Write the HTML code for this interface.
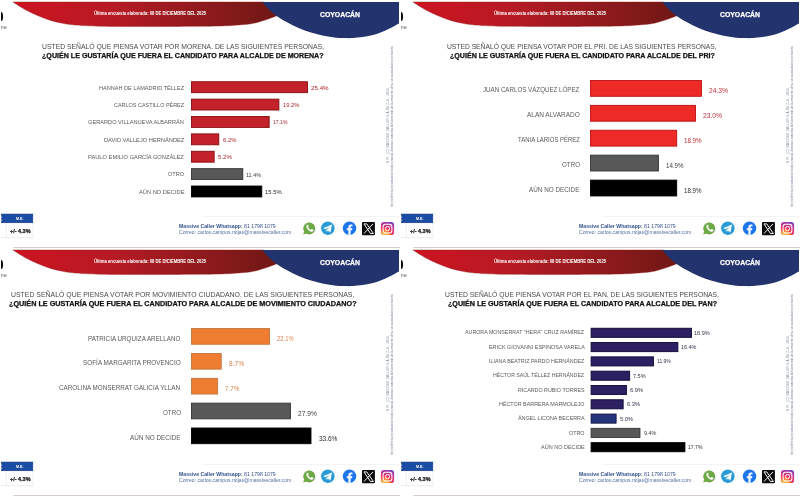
<!DOCTYPE html>
<html lang="es">
<head>
<meta charset="utf-8">
<title>Encuesta Coyoacán</title>
<style>
html,body{margin:0;padding:0;background:#fff;}
body{width:800px;height:497px;position:relative;overflow:hidden;font-family:"Liberation Sans", Arial, sans-serif;}
.p{position:absolute;width:400px;height:249px;overflow:hidden;background:#fff;}
.p svg.h{position:absolute;left:0;top:0;}
.t{position:absolute;white-space:nowrap;line-height:10px;height:10px;transform-origin:0 50%;}
.b{position:absolute;box-sizing:border-box;border:0.8px solid;}
.ic{position:absolute;}
.v{position:absolute;white-space:nowrap;transform-origin:0 0;transform:rotate(-90deg);font-size:3.1px;line-height:4px;color:#7d87a0;}
</style>
</head>
<body>
<div class="p" style="left:0px;top:0px;">
<svg class="h" width="400" height="42" viewBox="0 0 400 42"><defs><linearGradient id="g0" x1="13" y1="0" x2="285" y2="0" gradientUnits="userSpaceOnUse"><stop offset="0" stop-color="#cc1420"/><stop offset="0.35" stop-color="#b81a25"/><stop offset="0.7" stop-color="#8f1a1d"/><stop offset="1" stop-color="#6c1813"/></linearGradient></defs><path d="M13.00,2.00 C15.00,3.25 20.92,7.25 25.00,9.50 C29.08,11.75 33.33,13.70 37.50,15.50 C41.67,17.30 45.83,19.00 50.00,20.30 C54.17,21.60 58.33,22.52 62.50,23.30 C66.67,24.08 68.75,24.52 75.00,25.00 C81.25,25.48 87.50,25.95 100.00,26.20 C112.50,26.45 133.33,26.48 150.00,26.50 C166.67,26.52 187.50,26.42 200.00,26.30 C212.50,26.18 216.67,26.20 225.00,25.80 C233.33,25.40 243.83,24.70 250.00,23.90 C256.17,23.10 257.83,22.23 262.00,21.00 C266.17,19.77 270.33,18.33 275.00,16.50 C279.67,14.67 287.50,11.08 290.00,10.00 L290,5 L268,4.5 L264,2 Z" fill="url(#g0)" stroke="#8e1218" stroke-opacity="0.55" stroke-width="0.7"/><path d="M262.20,2.00 C263.29,3.23 266.10,6.92 268.75,9.40 C271.40,11.88 274.98,14.72 278.10,16.90 C281.23,19.08 284.37,20.78 287.50,22.50 C290.63,24.22 293.77,25.78 296.90,27.20 C300.02,28.62 303.13,29.91 306.25,31.00 C309.37,32.09 312.48,32.92 315.60,33.75 C318.73,34.58 321.87,35.38 325.00,36.00 C328.13,36.62 331.27,37.15 334.40,37.50 C337.52,37.85 340.63,38.00 343.75,38.10 C346.87,38.20 349.98,38.27 353.10,38.10 C356.23,37.93 359.37,37.58 362.50,37.10 C365.63,36.62 368.77,36.06 371.90,35.25 C375.02,34.44 378.13,33.44 381.25,32.25 C384.37,31.06 387.64,29.61 390.60,28.10 C393.56,26.59 397.60,24.02 399.00,23.20 L399,2 Z" fill="#22336d"/></svg>
<div style="position:absolute;left:0.7px;top:12.4px;width:1.9px;height:9.1px;background:#0a0a0a;border-radius:0 2px 2px 0/0 5px 5px 0;"></div>
<span class="t" id="t0" style="left:0.80px;top:22.20px;font-size:5.80px;font-weight:400;color:#5a5a5a;transform:scaleX(1.1442);">re</span>
<span class="t" id="t1" style="left:94.20px;top:7.60px;font-size:5.00px;font-weight:700;color:#fff;transform:scaleX(0.8392);">Última encuesta elaborada: 08 DE DICIEMBRE DEL 2025</span>
<span class="t" id="t2" style="left:320.00px;top:9.60px;font-size:6.60px;font-weight:700;color:#fff;transform:scaleX(1.0398);-webkit-text-stroke:0.25px #fff;">COYOACÁN</span>
<span class="t" id="t3" style="left:42.00px;top:41.60px;font-size:6.90px;font-weight:400;color:#4a4a4a;transform:scaleX(0.9890);">USTED SEÑALÓ QUE PIENSA VOTAR POR MORENA. DE LAS SIGUIENTES PERSONAS,</span>
<span class="t" id="t4" style="left:42.00px;top:51.40px;font-size:6.90px;font-weight:700;color:#111;transform:scaleX(1.0322);-webkit-text-stroke:0.25px #111;">¿QUIÉN LE GUSTARÍA QUE FUERA EL CANDIDATO PARA ALCALDE DE MORENA?</span>
<svg class="h" width="400" height="249" viewBox="0 0 400 249"><rect x="191.45" y="81.75" width="116.10" height="10.90" fill="#c4222a" stroke="#870b11" stroke-width="0.9"/><rect x="191.45" y="99.13" width="87.43" height="10.90" fill="#c4222a" stroke="#870b11" stroke-width="0.9"/><rect x="191.45" y="116.51" width="77.72" height="10.90" fill="#c4222a" stroke="#870b11" stroke-width="0.9"/><rect x="191.45" y="133.89" width="27.32" height="10.90" fill="#c4222a" stroke="#870b11" stroke-width="0.9"/><rect x="191.45" y="151.27" width="22.69" height="10.90" fill="#c4222a" stroke="#870b11" stroke-width="0.9"/><rect x="191.45" y="168.65" width="51.36" height="10.90" fill="#585858" stroke="#333333" stroke-width="0.9"/><rect x="191.45" y="186.03" width="70.32" height="10.90" fill="#000000" stroke="#000000" stroke-width="0.9"/></svg>
<span class="t" id="t5" style="left:99.00px;top:82.50px;font-size:6.20px;font-weight:400;color:#5a5a5a;transform:scaleX(0.9010);">HANNAH DE LAMADRID TÉLLEZ</span>
<span class="t" id="t6" style="left:311.40px;top:82.70px;font-size:6.20px;font-weight:400;color:#a9272d;transform:scaleX(1.0030);">25.4%</span>
<span class="t" id="t7" style="left:114.00px;top:99.88px;font-size:6.20px;font-weight:400;color:#5a5a5a;transform:scaleX(0.8825);">CARLOS CASTILLO PÉREZ</span>
<span class="t" id="t8" style="left:282.60px;top:100.08px;font-size:6.20px;font-weight:400;color:#a9272d;transform:scaleX(0.9346);">19.2%</span>
<span class="t" id="t9" style="left:88.25px;top:117.26px;font-size:6.20px;font-weight:400;color:#5a5a5a;transform:scaleX(0.9119);">GERARDO VILLANUEVA ALBARRÁN</span>
<span class="t" id="t10" style="left:272.60px;top:117.46px;font-size:6.20px;font-weight:400;color:#a9272d;transform:scaleX(0.8207);">17.1%</span>
<span class="t" id="t11" style="left:103.80px;top:134.64px;font-size:6.20px;font-weight:400;color:#5a5a5a;transform:scaleX(0.9218);">DAVID VALLEJO HERNÁNDEZ</span>
<span class="t" id="t12" style="left:223.00px;top:134.84px;font-size:6.20px;font-weight:400;color:#a9272d;transform:scaleX(0.9497);">6.2%</span>
<span class="t" id="t13" style="left:88.30px;top:152.02px;font-size:6.20px;font-weight:400;color:#5a5a5a;transform:scaleX(0.9266);">PAULO EMILIO GARCÍA GONZÁLEZ</span>
<span class="t" id="t14" style="left:218.00px;top:152.22px;font-size:6.20px;font-weight:400;color:#a9272d;transform:scaleX(0.9922);">5.2%</span>
<span class="t" id="t15" style="left:168.00px;top:169.40px;font-size:6.20px;font-weight:400;color:#5a5a5a;transform:scaleX(0.9007);">OTRO</span>
<span class="t" id="t16" style="left:246.40px;top:169.60px;font-size:6.20px;font-weight:400;color:#3c3c3c;transform:scaleX(0.8775);">11.4%</span>
<span class="t" id="t17" style="left:138.60px;top:186.78px;font-size:6.20px;font-weight:400;color:#5a5a5a;transform:scaleX(0.9253);">AÚN NO DECIDE</span>
<span class="t" id="t18" style="left:265.40px;top:186.98px;font-size:6.20px;font-weight:400;color:#2c2c2c;transform:scaleX(0.9460);">15.5%</span>
<svg class="h" style="top:205px;" width="40" height="40" viewBox="0 205 40 40"><rect x="1.5" y="214.05" width="31.3" height="8.7" fill="#1b4ba3" stroke="#123a8a" stroke-width="0.6"/><path d="M1.2,216.3 l1.1,0.9 l-1.1,0.9 z M1.2,219.2 l1.1,0.9 l-1.1,0.9 z" fill="#fff" opacity="0.85"/><path d="M6.3,223.1 V237.6 M32.8,223.1 V237.6" stroke="#e6e6e6" stroke-width="0.6" fill="none"/><path d="M1,237.6 H33.2" stroke="#dcdcdc" stroke-width="0.6" fill="none"/></svg>
<span class="t" id="t19" style="left:16.20px;top:213.60px;font-size:3.50px;font-weight:700;color:#fff;transform:scaleX(1.0551);">M.E.</span>
<span class="t" id="t20" style="left:9.50px;top:225.70px;font-size:5.30px;font-weight:700;color:#1a1a1a;transform:scaleX(1.0314);-webkit-text-stroke:0.25px #1a1a1a;">+/- 4.3%</span>
<div style="position:absolute;left:203px;top:216px;width:197px;height:0.7px;background:#f4f4f4;"></div>
<span class="t" id="t21" style="left:179.30px;top:221.30px;font-size:5.00px;font-weight:400;color:#34518c;transform:scaleX(1.0323);"><b>Massive Caller Whatsapp:</b> 81 1798 1079</span>
<span class="t" id="t22" style="left:179.30px;top:227.25px;font-size:5.00px;font-weight:400;color:#55709f;transform:scaleX(1.0250);">Correo: carlos.campos.riojas@massivecaller.com</span>
<svg class="ic" style="left:300px;top:219px;" width="100" height="20" viewBox="300 219 100 20">
<defs>
<radialGradient id="igG" cx="0.28" cy="1.05" r="1.25"><stop offset="0" stop-color="#fed576"/><stop offset="0.22" stop-color="#f9a23a"/><stop offset="0.45" stop-color="#ee3a52"/><stop offset="0.7" stop-color="#c42f93"/><stop offset="1" stop-color="#5a4ad1"/></radialGradient>
<filter id="sh" x="-20%" y="-20%" width="140%" height="140%"><feGaussianBlur stdDeviation="0.45"/></filter>
</defs>
<g>
<circle cx="309.3" cy="228.5" r="6.1" fill="#4d6b33" opacity="0.45" filter="url(#sh)"/>
<path d="M303.1,234.6 L304.2,231.2 A5.8,5.8 0 1 1 306.6,233.5 Z" fill="#6dab47"/>
<path d="M306.9,225.0 c0.5,-0.5 1.0,-0.4 1.2,0.1 l0.5,1.1 c0.1,0.3 0,0.6 -0.3,0.9 c-0.2,0.2 -0.2,0.4 0,0.7 c0.6,0.9 1.3,1.5 2.2,1.9 c0.3,0.1 0.5,0.1 0.7,-0.2 c0.3,-0.4 0.6,-0.5 1.0,-0.3 l1.0,0.5 c0.4,0.2 0.4,0.6 0.2,1.1 c-0.4,0.9 -1.4,1.2 -2.4,0.9 c-2.3,-0.7 -4.0,-2.4 -4.6,-4.6 c-0.2,-0.8 -0.1,-1.5 0.5,-2.1 z" fill="#fff"/>
</g>
<g>
<circle cx="327.85" cy="228.3" r="6.75" fill="#2a9dd6"/>
<path d="M323.2,228.3 L332.0,224.6 L330.4,232.6 L327.8,230.6 L326.5,232.0 L326.4,229.9 L330.2,226.5 L325.6,229.3 Z" fill="#fff"/>
</g>
<g>
<circle cx="349.5" cy="228.15" r="6.7" fill="#1b74e8"/>
<path d="M350.55,234.85 v-4.6 h1.5 l0.3,-1.9 h-1.8 v-1.1 c0,-0.6 0.25,-1.05 1.05,-1.05 h0.85 v-1.65 c-0.4,-0.07 -0.95,-0.12 -1.5,-0.12 c-1.6,0 -2.55,0.95 -2.55,2.65 v1.27 h-1.6 v1.9 h1.6 v4.6 z" fill="#fff"/>
</g>
<g>
<rect x="362" y="222.1" width="12.9" height="13.1" rx="0.8" fill="#0b0b0b"/>
<path d="M363.9,223.9 h2.9 l6.6,9.6 h-2.9 z" fill="none" stroke="#fff" stroke-width="0.95" stroke-linejoin="round"/>
<path d="M373.0,223.9 L364.0,233.5" fill="none" stroke="#fff" stroke-width="0.95"/>
</g>
<g>
<rect x="380.9" y="222.1" width="13.2" height="13.0" rx="3.2" fill="url(#igG)"/>
<rect x="383.1" y="224.3" width="8.8" height="8.6" rx="2.4" fill="none" stroke="#fff" stroke-width="1.05"/>
<circle cx="387.5" cy="228.6" r="2.05" fill="none" stroke="#fff" stroke-width="1.0"/>
<circle cx="390.0" cy="226.1" r="0.55" fill="#fff"/>
</g>
</svg>

<div class="v" id="v0a" style="left:385.5px;top:163.3px;letter-spacing:0.220px;">D.R., (C) MASSIVE CALLER S.A DE C.V., 2025</div>
<div class="v" id="v0b" style="left:390px;top:206.5px;letter-spacing:-0.059px;">Se prohíbe la reproducción total o parcial, directa o indirecta del contenido de la presente obra, sin autorización por escrito.</div>
<div style="position:absolute;left:12.5px;top:247px;width:388px;height:0.8px;background:#d9cccc;"></div>
</div>
<div class="p" style="left:400px;top:0px;">
<svg class="h" width="400" height="42" viewBox="0 0 400 42"><defs><linearGradient id="g1" x1="13" y1="0" x2="285" y2="0" gradientUnits="userSpaceOnUse"><stop offset="0" stop-color="#cc1420"/><stop offset="0.35" stop-color="#b81a25"/><stop offset="0.7" stop-color="#8f1a1d"/><stop offset="1" stop-color="#6c1813"/></linearGradient></defs><path d="M13.00,2.00 C15.00,3.25 20.92,7.25 25.00,9.50 C29.08,11.75 33.33,13.70 37.50,15.50 C41.67,17.30 45.83,19.00 50.00,20.30 C54.17,21.60 58.33,22.52 62.50,23.30 C66.67,24.08 68.75,24.52 75.00,25.00 C81.25,25.48 87.50,25.95 100.00,26.20 C112.50,26.45 133.33,26.48 150.00,26.50 C166.67,26.52 187.50,26.42 200.00,26.30 C212.50,26.18 216.67,26.20 225.00,25.80 C233.33,25.40 243.83,24.70 250.00,23.90 C256.17,23.10 257.83,22.23 262.00,21.00 C266.17,19.77 270.33,18.33 275.00,16.50 C279.67,14.67 287.50,11.08 290.00,10.00 L290,5 L268,4.5 L264,2 Z" fill="url(#g1)" stroke="#8e1218" stroke-opacity="0.55" stroke-width="0.7"/><path d="M262.20,2.00 C263.29,3.23 266.10,6.92 268.75,9.40 C271.40,11.88 274.98,14.72 278.10,16.90 C281.23,19.08 284.37,20.78 287.50,22.50 C290.63,24.22 293.77,25.78 296.90,27.20 C300.02,28.62 303.13,29.91 306.25,31.00 C309.37,32.09 312.48,32.92 315.60,33.75 C318.73,34.58 321.87,35.38 325.00,36.00 C328.13,36.62 331.27,37.15 334.40,37.50 C337.52,37.85 340.63,38.00 343.75,38.10 C346.87,38.20 349.98,38.27 353.10,38.10 C356.23,37.93 359.37,37.58 362.50,37.10 C365.63,36.62 368.77,36.06 371.90,35.25 C375.02,34.44 378.13,33.44 381.25,32.25 C384.37,31.06 387.64,29.61 390.60,28.10 C393.56,26.59 397.60,24.02 399.00,23.20 L399,2 Z" fill="#22336d"/></svg>
<div style="position:absolute;left:0.7px;top:12.4px;width:1.9px;height:9.1px;background:#0a0a0a;border-radius:0 2px 2px 0/0 5px 5px 0;"></div>
<span class="t" id="t23" style="left:0.80px;top:22.20px;font-size:5.80px;font-weight:400;color:#5a5a5a;transform:scaleX(1.1442);">re</span>
<span class="t" id="t24" style="left:94.20px;top:7.60px;font-size:5.00px;font-weight:700;color:#fff;transform:scaleX(0.8392);">Última encuesta elaborada: 08 DE DICIEMBRE DEL 2025</span>
<span class="t" id="t25" style="left:320.00px;top:9.60px;font-size:6.60px;font-weight:700;color:#fff;transform:scaleX(1.0398);-webkit-text-stroke:0.25px #fff;">COYOACÁN</span>
<span class="t" id="t26" style="left:47.40px;top:41.60px;font-size:6.90px;font-weight:400;color:#4a4a4a;transform:scaleX(0.9752);">USTED SEÑALÓ QUE PIENSA VOTAR POR EL PRI. DE LAS SIGUIENTES PERSONAS,</span>
<span class="t" id="t27" style="left:49.60px;top:51.40px;font-size:6.90px;font-weight:700;color:#111;transform:scaleX(1.0273);-webkit-text-stroke:0.25px #111;">¿QUIÉN LE GUSTARÍA QUE FUERA EL CANDIDATO PARA ALCALDE DEL PRI?</span>
<svg class="h" width="400" height="249" viewBox="0 0 400 249"><rect x="190.50" y="80.45" width="110.90" height="15.85" fill="#ee2a26" stroke="#b81212" stroke-width="0.9"/><rect x="190.50" y="105.35" width="104.95" height="15.85" fill="#ee2a26" stroke="#b81212" stroke-width="0.9"/><rect x="190.50" y="130.25" width="86.20" height="15.85" fill="#ee2a26" stroke="#b81212" stroke-width="0.9"/><rect x="190.50" y="155.15" width="67.90" height="15.85" fill="#585858" stroke="#333333" stroke-width="0.9"/><rect x="190.50" y="180.10" width="86.20" height="15.85" fill="#000000" stroke="#000000" stroke-width="0.9"/></svg>
<span class="t" id="t28" style="left:83.30px;top:85.47px;font-size:6.90px;font-weight:400;color:#5a5a5a;transform:scaleX(0.8991);">JUAN CARLOS VÁZQUEZ LÓPEZ</span>
<span class="t" id="t29" style="left:309.40px;top:86.08px;font-size:6.80px;font-weight:400;color:#b93038;transform:scaleX(0.9854);">24.3%</span>
<span class="t" id="t30" style="left:127.00px;top:110.38px;font-size:6.90px;font-weight:400;color:#5a5a5a;transform:scaleX(0.9403);">ALAN ALVARADO</span>
<span class="t" id="t31" style="left:303.40px;top:110.98px;font-size:6.80px;font-weight:400;color:#b93038;transform:scaleX(0.9854);">23.0%</span>
<span class="t" id="t32" style="left:117.70px;top:135.28px;font-size:6.90px;font-weight:400;color:#5a5a5a;transform:scaleX(0.8673);">TANIA LARIOS PÉREZ</span>
<span class="t" id="t33" style="left:284.40px;top:135.88px;font-size:6.80px;font-weight:400;color:#b93038;transform:scaleX(0.9128);">18.9%</span>
<span class="t" id="t34" style="left:161.70px;top:160.17px;font-size:6.90px;font-weight:400;color:#5a5a5a;transform:scaleX(0.9042);">OTRO</span>
<span class="t" id="t35" style="left:266.00px;top:160.77px;font-size:6.80px;font-weight:400;color:#3c3c3c;transform:scaleX(0.9128);">14.9%</span>
<span class="t" id="t36" style="left:129.30px;top:185.12px;font-size:6.90px;font-weight:400;color:#5a5a5a;transform:scaleX(0.9205);">AÚN NO DECIDE</span>
<span class="t" id="t37" style="left:284.40px;top:185.72px;font-size:6.80px;font-weight:400;color:#2c2c2c;transform:scaleX(0.9128);">18.9%</span>
<svg class="h" style="top:205px;" width="40" height="40" viewBox="0 205 40 40"><rect x="1.5" y="214.05" width="31.3" height="8.7" fill="#1b4ba3" stroke="#123a8a" stroke-width="0.6"/><path d="M1.2,216.3 l1.1,0.9 l-1.1,0.9 z M1.2,219.2 l1.1,0.9 l-1.1,0.9 z" fill="#fff" opacity="0.85"/><path d="M6.3,223.1 V237.6 M32.8,223.1 V237.6" stroke="#e6e6e6" stroke-width="0.6" fill="none"/><path d="M1,237.6 H33.2" stroke="#dcdcdc" stroke-width="0.6" fill="none"/></svg>
<span class="t" id="t38" style="left:16.20px;top:213.60px;font-size:3.50px;font-weight:700;color:#fff;transform:scaleX(1.0551);">M.E.</span>
<span class="t" id="t39" style="left:9.50px;top:225.70px;font-size:5.30px;font-weight:700;color:#1a1a1a;transform:scaleX(1.0314);-webkit-text-stroke:0.25px #1a1a1a;">+/- 4.3%</span>
<div style="position:absolute;left:203px;top:216px;width:197px;height:0.7px;background:#f4f4f4;"></div>
<span class="t" id="t40" style="left:179.30px;top:221.30px;font-size:5.00px;font-weight:400;color:#34518c;transform:scaleX(1.0323);"><b>Massive Caller Whatsapp:</b> 81 1798 1079</span>
<span class="t" id="t41" style="left:179.30px;top:227.25px;font-size:5.00px;font-weight:400;color:#55709f;transform:scaleX(1.0250);">Correo: carlos.campos.riojas@massivecaller.com</span>
<svg class="ic" style="left:300px;top:219px;" width="100" height="20" viewBox="300 219 100 20">
<defs>
<radialGradient id="igG" cx="0.28" cy="1.05" r="1.25"><stop offset="0" stop-color="#fed576"/><stop offset="0.22" stop-color="#f9a23a"/><stop offset="0.45" stop-color="#ee3a52"/><stop offset="0.7" stop-color="#c42f93"/><stop offset="1" stop-color="#5a4ad1"/></radialGradient>
<filter id="sh" x="-20%" y="-20%" width="140%" height="140%"><feGaussianBlur stdDeviation="0.45"/></filter>
</defs>
<g>
<circle cx="309.3" cy="228.5" r="6.1" fill="#4d6b33" opacity="0.45" filter="url(#sh)"/>
<path d="M303.1,234.6 L304.2,231.2 A5.8,5.8 0 1 1 306.6,233.5 Z" fill="#6dab47"/>
<path d="M306.9,225.0 c0.5,-0.5 1.0,-0.4 1.2,0.1 l0.5,1.1 c0.1,0.3 0,0.6 -0.3,0.9 c-0.2,0.2 -0.2,0.4 0,0.7 c0.6,0.9 1.3,1.5 2.2,1.9 c0.3,0.1 0.5,0.1 0.7,-0.2 c0.3,-0.4 0.6,-0.5 1.0,-0.3 l1.0,0.5 c0.4,0.2 0.4,0.6 0.2,1.1 c-0.4,0.9 -1.4,1.2 -2.4,0.9 c-2.3,-0.7 -4.0,-2.4 -4.6,-4.6 c-0.2,-0.8 -0.1,-1.5 0.5,-2.1 z" fill="#fff"/>
</g>
<g>
<circle cx="327.85" cy="228.3" r="6.75" fill="#2a9dd6"/>
<path d="M323.2,228.3 L332.0,224.6 L330.4,232.6 L327.8,230.6 L326.5,232.0 L326.4,229.9 L330.2,226.5 L325.6,229.3 Z" fill="#fff"/>
</g>
<g>
<circle cx="349.5" cy="228.15" r="6.7" fill="#1b74e8"/>
<path d="M350.55,234.85 v-4.6 h1.5 l0.3,-1.9 h-1.8 v-1.1 c0,-0.6 0.25,-1.05 1.05,-1.05 h0.85 v-1.65 c-0.4,-0.07 -0.95,-0.12 -1.5,-0.12 c-1.6,0 -2.55,0.95 -2.55,2.65 v1.27 h-1.6 v1.9 h1.6 v4.6 z" fill="#fff"/>
</g>
<g>
<rect x="362" y="222.1" width="12.9" height="13.1" rx="0.8" fill="#0b0b0b"/>
<path d="M363.9,223.9 h2.9 l6.6,9.6 h-2.9 z" fill="none" stroke="#fff" stroke-width="0.95" stroke-linejoin="round"/>
<path d="M373.0,223.9 L364.0,233.5" fill="none" stroke="#fff" stroke-width="0.95"/>
</g>
<g>
<rect x="380.9" y="222.1" width="13.2" height="13.0" rx="3.2" fill="url(#igG)"/>
<rect x="383.1" y="224.3" width="8.8" height="8.6" rx="2.4" fill="none" stroke="#fff" stroke-width="1.05"/>
<circle cx="387.5" cy="228.6" r="2.05" fill="none" stroke="#fff" stroke-width="1.0"/>
<circle cx="390.0" cy="226.1" r="0.55" fill="#fff"/>
</g>
</svg>

<div class="v" id="v1a" style="left:385.5px;top:163.3px;letter-spacing:0.220px;">D.R., (C) MASSIVE CALLER S.A DE C.V., 2025</div>
<div class="v" id="v1b" style="left:390px;top:206.5px;letter-spacing:-0.059px;">Se prohíbe la reproducción total o parcial, directa o indirecta del contenido de la presente obra, sin autorización por escrito.</div>
<div style="position:absolute;left:12.5px;top:247px;width:388px;height:0.8px;background:#d9cccc;"></div>
</div>
<div class="p" style="left:0px;top:248px;">
<svg class="h" width="400" height="42" viewBox="0 0 400 42"><defs><linearGradient id="g2" x1="13" y1="0" x2="285" y2="0" gradientUnits="userSpaceOnUse"><stop offset="0" stop-color="#cc1420"/><stop offset="0.35" stop-color="#b81a25"/><stop offset="0.7" stop-color="#8f1a1d"/><stop offset="1" stop-color="#6c1813"/></linearGradient></defs><path d="M13.00,2.00 C15.00,3.25 20.92,7.25 25.00,9.50 C29.08,11.75 33.33,13.70 37.50,15.50 C41.67,17.30 45.83,19.00 50.00,20.30 C54.17,21.60 58.33,22.52 62.50,23.30 C66.67,24.08 68.75,24.52 75.00,25.00 C81.25,25.48 87.50,25.95 100.00,26.20 C112.50,26.45 133.33,26.48 150.00,26.50 C166.67,26.52 187.50,26.42 200.00,26.30 C212.50,26.18 216.67,26.20 225.00,25.80 C233.33,25.40 243.83,24.70 250.00,23.90 C256.17,23.10 257.83,22.23 262.00,21.00 C266.17,19.77 270.33,18.33 275.00,16.50 C279.67,14.67 287.50,11.08 290.00,10.00 L290,5 L268,4.5 L264,2 Z" fill="url(#g2)" stroke="#8e1218" stroke-opacity="0.55" stroke-width="0.7"/><path d="M262.20,2.00 C263.29,3.23 266.10,6.92 268.75,9.40 C271.40,11.88 274.98,14.72 278.10,16.90 C281.23,19.08 284.37,20.78 287.50,22.50 C290.63,24.22 293.77,25.78 296.90,27.20 C300.02,28.62 303.13,29.91 306.25,31.00 C309.37,32.09 312.48,32.92 315.60,33.75 C318.73,34.58 321.87,35.38 325.00,36.00 C328.13,36.62 331.27,37.15 334.40,37.50 C337.52,37.85 340.63,38.00 343.75,38.10 C346.87,38.20 349.98,38.27 353.10,38.10 C356.23,37.93 359.37,37.58 362.50,37.10 C365.63,36.62 368.77,36.06 371.90,35.25 C375.02,34.44 378.13,33.44 381.25,32.25 C384.37,31.06 387.64,29.61 390.60,28.10 C393.56,26.59 397.60,24.02 399.00,23.20 L399,2 Z" fill="#22336d"/></svg>
<div style="position:absolute;left:0.7px;top:12.4px;width:1.9px;height:9.1px;background:#0a0a0a;border-radius:0 2px 2px 0/0 5px 5px 0;"></div>
<span class="t" id="t42" style="left:0.80px;top:22.20px;font-size:5.80px;font-weight:400;color:#5a5a5a;transform:scaleX(1.1442);">re</span>
<span class="t" id="t43" style="left:94.20px;top:7.60px;font-size:5.00px;font-weight:700;color:#fff;transform:scaleX(0.8392);">Última encuesta elaborada: 08 DE DICIEMBRE DEL 2025</span>
<span class="t" id="t44" style="left:320.00px;top:9.60px;font-size:6.60px;font-weight:700;color:#fff;transform:scaleX(1.0398);-webkit-text-stroke:0.25px #fff;">COYOACÁN</span>
<span class="t" id="t45" style="left:11.00px;top:41.60px;font-size:6.90px;font-weight:400;color:#4a4a4a;transform:scaleX(1.0028);">USTED SEÑALÓ QUE PIENSA VOTAR POR MOVIMIENTO CIUDADANO. DE LAS SIGUIENTES PERSONAS,</span>
<span class="t" id="t46" style="left:9.00px;top:51.40px;font-size:6.90px;font-weight:700;color:#111;transform:scaleX(1.0517);-webkit-text-stroke:0.25px #111;">¿QUIÉN LE GUSTARÍA QUE FUERA EL CANDIDATO PARA ALCALDE DE MOVIMIENTO CIUDADANO?</span>
<svg class="h" width="400" height="249" viewBox="0 0 400 249"><rect x="191.45" y="80.55" width="78.07" height="15.70" fill="#ee7d31" stroke="#c2763d" stroke-width="0.9"/><rect x="191.45" y="105.45" width="29.76" height="15.70" fill="#ee7d31" stroke="#c2763d" stroke-width="0.9"/><rect x="191.45" y="130.35" width="26.16" height="15.70" fill="#ee7d31" stroke="#c2763d" stroke-width="0.9"/><rect x="191.45" y="155.15" width="98.98" height="15.70" fill="#585858" stroke="#333333" stroke-width="0.9"/><rect x="191.45" y="180.00" width="119.53" height="15.70" fill="#000000" stroke="#000000" stroke-width="0.9"/></svg>
<span class="t" id="t47" style="left:88.00px;top:85.50px;font-size:6.90px;font-weight:400;color:#5a5a5a;transform:scaleX(0.9139);">PATRICIA URQUIZA ARELLANO</span>
<span class="t" id="t48" style="left:277.40px;top:86.40px;font-size:6.80px;font-weight:400;color:#d9804a;transform:scaleX(0.8609);">22.1%</span>
<span class="t" id="t49" style="left:82.80px;top:110.40px;font-size:6.90px;font-weight:400;color:#5a5a5a;transform:scaleX(0.9257);">SOFÍA MARGARITA PROVENCIO</span>
<span class="t" id="t50" style="left:229.00px;top:111.30px;font-size:6.80px;font-weight:400;color:#d9804a;transform:scaleX(0.9677);">8.7%</span>
<span class="t" id="t51" style="left:59.40px;top:135.30px;font-size:6.90px;font-weight:400;color:#5a5a5a;transform:scaleX(0.9140);">CAROLINA MONSERRAT GALICIA YLLAN</span>
<span class="t" id="t52" style="left:225.40px;top:136.20px;font-size:6.80px;font-weight:400;color:#d9804a;transform:scaleX(0.9161);">7.7%</span>
<span class="t" id="t53" style="left:162.50px;top:160.10px;font-size:6.90px;font-weight:400;color:#5a5a5a;transform:scaleX(0.9042);">OTRO</span>
<span class="t" id="t54" style="left:298.00px;top:161.00px;font-size:6.80px;font-weight:400;color:#3c3c3c;transform:scaleX(0.9750);">27.9%</span>
<span class="t" id="t55" style="left:130.00px;top:184.95px;font-size:6.90px;font-weight:400;color:#5a5a5a;transform:scaleX(0.9224);">AÚN NO DECIDE</span>
<span class="t" id="t56" style="left:318.80px;top:185.85px;font-size:6.80px;font-weight:400;color:#2c2c2c;transform:scaleX(0.9543);">33.6%</span>
<svg class="h" style="top:205px;" width="40" height="40" viewBox="0 205 40 40"><rect x="1.5" y="214.05" width="31.3" height="8.7" fill="#1b4ba3" stroke="#123a8a" stroke-width="0.6"/><path d="M1.2,216.3 l1.1,0.9 l-1.1,0.9 z M1.2,219.2 l1.1,0.9 l-1.1,0.9 z" fill="#fff" opacity="0.85"/><path d="M6.3,223.1 V237.6 M32.8,223.1 V237.6" stroke="#e6e6e6" stroke-width="0.6" fill="none"/><path d="M1,237.6 H33.2" stroke="#dcdcdc" stroke-width="0.6" fill="none"/></svg>
<span class="t" id="t57" style="left:16.20px;top:213.60px;font-size:3.50px;font-weight:700;color:#fff;transform:scaleX(1.0551);">M.E.</span>
<span class="t" id="t58" style="left:9.50px;top:225.70px;font-size:5.30px;font-weight:700;color:#1a1a1a;transform:scaleX(1.0314);-webkit-text-stroke:0.25px #1a1a1a;">+/- 4.3%</span>
<div style="position:absolute;left:203px;top:216px;width:197px;height:0.7px;background:#f4f4f4;"></div>
<span class="t" id="t59" style="left:179.30px;top:221.30px;font-size:5.00px;font-weight:400;color:#34518c;transform:scaleX(1.0323);"><b>Massive Caller Whatsapp:</b> 81 1798 1079</span>
<span class="t" id="t60" style="left:179.30px;top:227.25px;font-size:5.00px;font-weight:400;color:#55709f;transform:scaleX(1.0250);">Correo: carlos.campos.riojas@massivecaller.com</span>
<svg class="ic" style="left:300px;top:219px;" width="100" height="20" viewBox="300 219 100 20">
<defs>
<radialGradient id="igG" cx="0.28" cy="1.05" r="1.25"><stop offset="0" stop-color="#fed576"/><stop offset="0.22" stop-color="#f9a23a"/><stop offset="0.45" stop-color="#ee3a52"/><stop offset="0.7" stop-color="#c42f93"/><stop offset="1" stop-color="#5a4ad1"/></radialGradient>
<filter id="sh" x="-20%" y="-20%" width="140%" height="140%"><feGaussianBlur stdDeviation="0.45"/></filter>
</defs>
<g>
<circle cx="309.3" cy="228.5" r="6.1" fill="#4d6b33" opacity="0.45" filter="url(#sh)"/>
<path d="M303.1,234.6 L304.2,231.2 A5.8,5.8 0 1 1 306.6,233.5 Z" fill="#6dab47"/>
<path d="M306.9,225.0 c0.5,-0.5 1.0,-0.4 1.2,0.1 l0.5,1.1 c0.1,0.3 0,0.6 -0.3,0.9 c-0.2,0.2 -0.2,0.4 0,0.7 c0.6,0.9 1.3,1.5 2.2,1.9 c0.3,0.1 0.5,0.1 0.7,-0.2 c0.3,-0.4 0.6,-0.5 1.0,-0.3 l1.0,0.5 c0.4,0.2 0.4,0.6 0.2,1.1 c-0.4,0.9 -1.4,1.2 -2.4,0.9 c-2.3,-0.7 -4.0,-2.4 -4.6,-4.6 c-0.2,-0.8 -0.1,-1.5 0.5,-2.1 z" fill="#fff"/>
</g>
<g>
<circle cx="327.85" cy="228.3" r="6.75" fill="#2a9dd6"/>
<path d="M323.2,228.3 L332.0,224.6 L330.4,232.6 L327.8,230.6 L326.5,232.0 L326.4,229.9 L330.2,226.5 L325.6,229.3 Z" fill="#fff"/>
</g>
<g>
<circle cx="349.5" cy="228.15" r="6.7" fill="#1b74e8"/>
<path d="M350.55,234.85 v-4.6 h1.5 l0.3,-1.9 h-1.8 v-1.1 c0,-0.6 0.25,-1.05 1.05,-1.05 h0.85 v-1.65 c-0.4,-0.07 -0.95,-0.12 -1.5,-0.12 c-1.6,0 -2.55,0.95 -2.55,2.65 v1.27 h-1.6 v1.9 h1.6 v4.6 z" fill="#fff"/>
</g>
<g>
<rect x="362" y="222.1" width="12.9" height="13.1" rx="0.8" fill="#0b0b0b"/>
<path d="M363.9,223.9 h2.9 l6.6,9.6 h-2.9 z" fill="none" stroke="#fff" stroke-width="0.95" stroke-linejoin="round"/>
<path d="M373.0,223.9 L364.0,233.5" fill="none" stroke="#fff" stroke-width="0.95"/>
</g>
<g>
<rect x="380.9" y="222.1" width="13.2" height="13.0" rx="3.2" fill="url(#igG)"/>
<rect x="383.1" y="224.3" width="8.8" height="8.6" rx="2.4" fill="none" stroke="#fff" stroke-width="1.05"/>
<circle cx="387.5" cy="228.6" r="2.05" fill="none" stroke="#fff" stroke-width="1.0"/>
<circle cx="390.0" cy="226.1" r="0.55" fill="#fff"/>
</g>
</svg>

<div class="v" id="v2a" style="left:385.5px;top:163.3px;letter-spacing:0.220px;">D.R., (C) MASSIVE CALLER S.A DE C.V., 2025</div>
<div class="v" id="v2b" style="left:390px;top:206.5px;letter-spacing:-0.059px;">Se prohíbe la reproducción total o parcial, directa o indirecta del contenido de la presente obra, sin autorización por escrito.</div>
<div style="position:absolute;left:12.5px;top:247px;width:388px;height:0.8px;background:#d9cccc;"></div>
</div>
<div class="p" style="left:400px;top:248px;">
<svg class="h" width="400" height="42" viewBox="0 0 400 42"><defs><linearGradient id="g3" x1="13" y1="0" x2="285" y2="0" gradientUnits="userSpaceOnUse"><stop offset="0" stop-color="#cc1420"/><stop offset="0.35" stop-color="#b81a25"/><stop offset="0.7" stop-color="#8f1a1d"/><stop offset="1" stop-color="#6c1813"/></linearGradient></defs><path d="M13.00,2.00 C15.00,3.25 20.92,7.25 25.00,9.50 C29.08,11.75 33.33,13.70 37.50,15.50 C41.67,17.30 45.83,19.00 50.00,20.30 C54.17,21.60 58.33,22.52 62.50,23.30 C66.67,24.08 68.75,24.52 75.00,25.00 C81.25,25.48 87.50,25.95 100.00,26.20 C112.50,26.45 133.33,26.48 150.00,26.50 C166.67,26.52 187.50,26.42 200.00,26.30 C212.50,26.18 216.67,26.20 225.00,25.80 C233.33,25.40 243.83,24.70 250.00,23.90 C256.17,23.10 257.83,22.23 262.00,21.00 C266.17,19.77 270.33,18.33 275.00,16.50 C279.67,14.67 287.50,11.08 290.00,10.00 L290,5 L268,4.5 L264,2 Z" fill="url(#g3)" stroke="#8e1218" stroke-opacity="0.55" stroke-width="0.7"/><path d="M262.20,2.00 C263.29,3.23 266.10,6.92 268.75,9.40 C271.40,11.88 274.98,14.72 278.10,16.90 C281.23,19.08 284.37,20.78 287.50,22.50 C290.63,24.22 293.77,25.78 296.90,27.20 C300.02,28.62 303.13,29.91 306.25,31.00 C309.37,32.09 312.48,32.92 315.60,33.75 C318.73,34.58 321.87,35.38 325.00,36.00 C328.13,36.62 331.27,37.15 334.40,37.50 C337.52,37.85 340.63,38.00 343.75,38.10 C346.87,38.20 349.98,38.27 353.10,38.10 C356.23,37.93 359.37,37.58 362.50,37.10 C365.63,36.62 368.77,36.06 371.90,35.25 C375.02,34.44 378.13,33.44 381.25,32.25 C384.37,31.06 387.64,29.61 390.60,28.10 C393.56,26.59 397.60,24.02 399.00,23.20 L399,2 Z" fill="#22336d"/></svg>
<div style="position:absolute;left:0.7px;top:12.4px;width:1.9px;height:9.1px;background:#0a0a0a;border-radius:0 2px 2px 0/0 5px 5px 0;"></div>
<span class="t" id="t61" style="left:0.80px;top:22.20px;font-size:5.80px;font-weight:400;color:#5a5a5a;transform:scaleX(1.1442);">re</span>
<span class="t" id="t62" style="left:94.20px;top:7.60px;font-size:5.00px;font-weight:700;color:#fff;transform:scaleX(0.8392);">Última encuesta elaborada: 08 DE DICIEMBRE DEL 2025</span>
<span class="t" id="t63" style="left:320.00px;top:9.60px;font-size:6.60px;font-weight:700;color:#fff;transform:scaleX(1.0398);-webkit-text-stroke:0.25px #fff;">COYOACÁN</span>
<span class="t" id="t64" style="left:45.00px;top:41.60px;font-size:6.90px;font-weight:400;color:#4a4a4a;transform:scaleX(0.9833);">USTED SEÑALÓ QUE PIENSA VOTAR POR EL PAN. DE LAS SIGUIENTES PERSONAS,</span>
<span class="t" id="t65" style="left:48.00px;top:51.40px;font-size:6.90px;font-weight:700;color:#111;transform:scaleX(1.0334);-webkit-text-stroke:0.25px #111;">¿QUIÉN LE GUSTARÍA QUE FUERA EL CANDIDATO PARA ALCALDE DEL PAN?</span>
<svg class="h" width="400" height="249" viewBox="0 0 400 249"><rect x="191.10" y="80.25" width="100.34" height="9.10" fill="#2c2062" stroke="#0d0834" stroke-width="0.9"/><rect x="191.10" y="94.55" width="86.79" height="9.10" fill="#2c2062" stroke="#0d0834" stroke-width="0.9"/><rect x="191.10" y="108.85" width="62.40" height="9.10" fill="#2c2062" stroke="#0d0834" stroke-width="0.9"/><rect x="191.10" y="123.15" width="38.55" height="9.10" fill="#2c2062" stroke="#0d0834" stroke-width="0.9"/><rect x="191.10" y="137.45" width="35.30" height="9.10" fill="#2c2062" stroke="#0d0834" stroke-width="0.9"/><rect x="191.10" y="151.75" width="32.05" height="9.10" fill="#2c2062" stroke="#0d0834" stroke-width="0.9"/><rect x="191.10" y="166.05" width="25.00" height="9.10" fill="#26357b" stroke="#0d1542" stroke-width="0.9"/><rect x="191.10" y="180.35" width="48.85" height="9.10" fill="#585858" stroke="#333333" stroke-width="0.9"/><rect x="191.10" y="194.65" width="93.83" height="9.10" fill="#000000" stroke="#000000" stroke-width="0.9"/></svg>
<span class="t" id="t66" style="left:65.25px;top:79.40px;font-size:6.10px;font-weight:400;color:#5a5a5a;transform:scaleX(0.8723);">AURORA MONSERRAT "HERA" CRUZ RAMÍREZ</span>
<span class="t" id="t67" style="left:294.40px;top:79.80px;font-size:6.10px;font-weight:400;color:#33334a;transform:scaleX(0.9027);">18.9%</span>
<span class="t" id="t68" style="left:88.50px;top:93.70px;font-size:6.10px;font-weight:400;color:#5a5a5a;transform:scaleX(0.8914);">ERICK GIOVANNI ESPINOSA VARELA</span>
<span class="t" id="t69" style="left:280.60px;top:94.10px;font-size:6.10px;font-weight:400;color:#33334a;transform:scaleX(0.8911);">16.4%</span>
<span class="t" id="t70" style="left:88.90px;top:108.00px;font-size:6.10px;font-weight:400;color:#5a5a5a;transform:scaleX(0.8795);">ILIANA BEATRIZ PARDO HERNÁNDEZ</span>
<span class="t" id="t71" style="left:256.60px;top:108.40px;font-size:6.10px;font-weight:400;color:#33334a;transform:scaleX(0.8201);">11.9%</span>
<span class="t" id="t72" style="left:93.25px;top:122.30px;font-size:6.10px;font-weight:400;color:#5a5a5a;transform:scaleX(0.8544);">HÉCTOR SAÚL TÉLLEZ HERNÁNDEZ</span>
<span class="t" id="t73" style="left:233.00px;top:122.70px;font-size:6.10px;font-weight:400;color:#33334a;transform:scaleX(0.9071);">7.5%</span>
<span class="t" id="t74" style="left:117.75px;top:136.60px;font-size:6.10px;font-weight:400;color:#5a5a5a;transform:scaleX(0.8760);">RICARDO RUBIO TORRES</span>
<span class="t" id="t75" style="left:230.00px;top:137.00px;font-size:6.10px;font-weight:400;color:#33334a;transform:scaleX(0.9359);">6.9%</span>
<span class="t" id="t76" style="left:98.85px;top:150.90px;font-size:6.10px;font-weight:400;color:#5a5a5a;transform:scaleX(0.8833);">HÉCTOR BARRERA MARMOLEJO</span>
<span class="t" id="t77" style="left:226.60px;top:151.30px;font-size:6.10px;font-weight:400;color:#33334a;transform:scaleX(0.9359);">6.3%</span>
<span class="t" id="t78" style="left:117.75px;top:165.20px;font-size:6.10px;font-weight:400;color:#5a5a5a;transform:scaleX(0.8798);">ÁNGEL LICONA BECERRA</span>
<span class="t" id="t79" style="left:220.00px;top:165.60px;font-size:6.10px;font-weight:400;color:#33334a;transform:scaleX(0.9359);">5.0%</span>
<span class="t" id="t80" style="left:168.85px;top:179.50px;font-size:6.10px;font-weight:400;color:#5a5a5a;transform:scaleX(0.8774);">OTRO</span>
<span class="t" id="t81" style="left:243.60px;top:179.90px;font-size:6.10px;font-weight:400;color:#3c3c3c;transform:scaleX(0.8927);">9.4%</span>
<span class="t" id="t82" style="left:140.50px;top:193.80px;font-size:6.10px;font-weight:400;color:#5a5a5a;transform:scaleX(0.9045);">AÚN NO DECIDE</span>
<span class="t" id="t83" style="left:288.00px;top:194.20px;font-size:6.10px;font-weight:400;color:#2c2c2c;transform:scaleX(0.8333);">17.7%</span>
<svg class="h" style="top:205px;" width="40" height="40" viewBox="0 205 40 40"><rect x="1.5" y="214.05" width="31.3" height="8.7" fill="#1b4ba3" stroke="#123a8a" stroke-width="0.6"/><path d="M1.2,216.3 l1.1,0.9 l-1.1,0.9 z M1.2,219.2 l1.1,0.9 l-1.1,0.9 z" fill="#fff" opacity="0.85"/><path d="M6.3,223.1 V237.6 M32.8,223.1 V237.6" stroke="#e6e6e6" stroke-width="0.6" fill="none"/><path d="M1,237.6 H33.2" stroke="#dcdcdc" stroke-width="0.6" fill="none"/></svg>
<span class="t" id="t84" style="left:16.20px;top:213.60px;font-size:3.50px;font-weight:700;color:#fff;transform:scaleX(1.0551);">M.E.</span>
<span class="t" id="t85" style="left:9.50px;top:225.70px;font-size:5.30px;font-weight:700;color:#1a1a1a;transform:scaleX(1.0314);-webkit-text-stroke:0.25px #1a1a1a;">+/- 4.3%</span>
<div style="position:absolute;left:203px;top:216px;width:197px;height:0.7px;background:#f4f4f4;"></div>
<span class="t" id="t86" style="left:179.30px;top:221.30px;font-size:5.00px;font-weight:400;color:#34518c;transform:scaleX(1.0323);"><b>Massive Caller Whatsapp:</b> 81 1798 1079</span>
<span class="t" id="t87" style="left:179.30px;top:227.25px;font-size:5.00px;font-weight:400;color:#55709f;transform:scaleX(1.0250);">Correo: carlos.campos.riojas@massivecaller.com</span>
<svg class="ic" style="left:300px;top:219px;" width="100" height="20" viewBox="300 219 100 20">
<defs>
<radialGradient id="igG" cx="0.28" cy="1.05" r="1.25"><stop offset="0" stop-color="#fed576"/><stop offset="0.22" stop-color="#f9a23a"/><stop offset="0.45" stop-color="#ee3a52"/><stop offset="0.7" stop-color="#c42f93"/><stop offset="1" stop-color="#5a4ad1"/></radialGradient>
<filter id="sh" x="-20%" y="-20%" width="140%" height="140%"><feGaussianBlur stdDeviation="0.45"/></filter>
</defs>
<g>
<circle cx="309.3" cy="228.5" r="6.1" fill="#4d6b33" opacity="0.45" filter="url(#sh)"/>
<path d="M303.1,234.6 L304.2,231.2 A5.8,5.8 0 1 1 306.6,233.5 Z" fill="#6dab47"/>
<path d="M306.9,225.0 c0.5,-0.5 1.0,-0.4 1.2,0.1 l0.5,1.1 c0.1,0.3 0,0.6 -0.3,0.9 c-0.2,0.2 -0.2,0.4 0,0.7 c0.6,0.9 1.3,1.5 2.2,1.9 c0.3,0.1 0.5,0.1 0.7,-0.2 c0.3,-0.4 0.6,-0.5 1.0,-0.3 l1.0,0.5 c0.4,0.2 0.4,0.6 0.2,1.1 c-0.4,0.9 -1.4,1.2 -2.4,0.9 c-2.3,-0.7 -4.0,-2.4 -4.6,-4.6 c-0.2,-0.8 -0.1,-1.5 0.5,-2.1 z" fill="#fff"/>
</g>
<g>
<circle cx="327.85" cy="228.3" r="6.75" fill="#2a9dd6"/>
<path d="M323.2,228.3 L332.0,224.6 L330.4,232.6 L327.8,230.6 L326.5,232.0 L326.4,229.9 L330.2,226.5 L325.6,229.3 Z" fill="#fff"/>
</g>
<g>
<circle cx="349.5" cy="228.15" r="6.7" fill="#1b74e8"/>
<path d="M350.55,234.85 v-4.6 h1.5 l0.3,-1.9 h-1.8 v-1.1 c0,-0.6 0.25,-1.05 1.05,-1.05 h0.85 v-1.65 c-0.4,-0.07 -0.95,-0.12 -1.5,-0.12 c-1.6,0 -2.55,0.95 -2.55,2.65 v1.27 h-1.6 v1.9 h1.6 v4.6 z" fill="#fff"/>
</g>
<g>
<rect x="362" y="222.1" width="12.9" height="13.1" rx="0.8" fill="#0b0b0b"/>
<path d="M363.9,223.9 h2.9 l6.6,9.6 h-2.9 z" fill="none" stroke="#fff" stroke-width="0.95" stroke-linejoin="round"/>
<path d="M373.0,223.9 L364.0,233.5" fill="none" stroke="#fff" stroke-width="0.95"/>
</g>
<g>
<rect x="380.9" y="222.1" width="13.2" height="13.0" rx="3.2" fill="url(#igG)"/>
<rect x="383.1" y="224.3" width="8.8" height="8.6" rx="2.4" fill="none" stroke="#fff" stroke-width="1.05"/>
<circle cx="387.5" cy="228.6" r="2.05" fill="none" stroke="#fff" stroke-width="1.0"/>
<circle cx="390.0" cy="226.1" r="0.55" fill="#fff"/>
</g>
</svg>

<div class="v" id="v3a" style="left:385.5px;top:163.3px;letter-spacing:0.220px;">D.R., (C) MASSIVE CALLER S.A DE C.V., 2025</div>
<div class="v" id="v3b" style="left:390px;top:206.5px;letter-spacing:-0.059px;">Se prohíbe la reproducción total o parcial, directa o indirecta del contenido de la presente obra, sin autorización por escrito.</div>
<div style="position:absolute;left:12.5px;top:247px;width:388px;height:0.8px;background:#d9cccc;"></div>
</div>
</body>
</html>
